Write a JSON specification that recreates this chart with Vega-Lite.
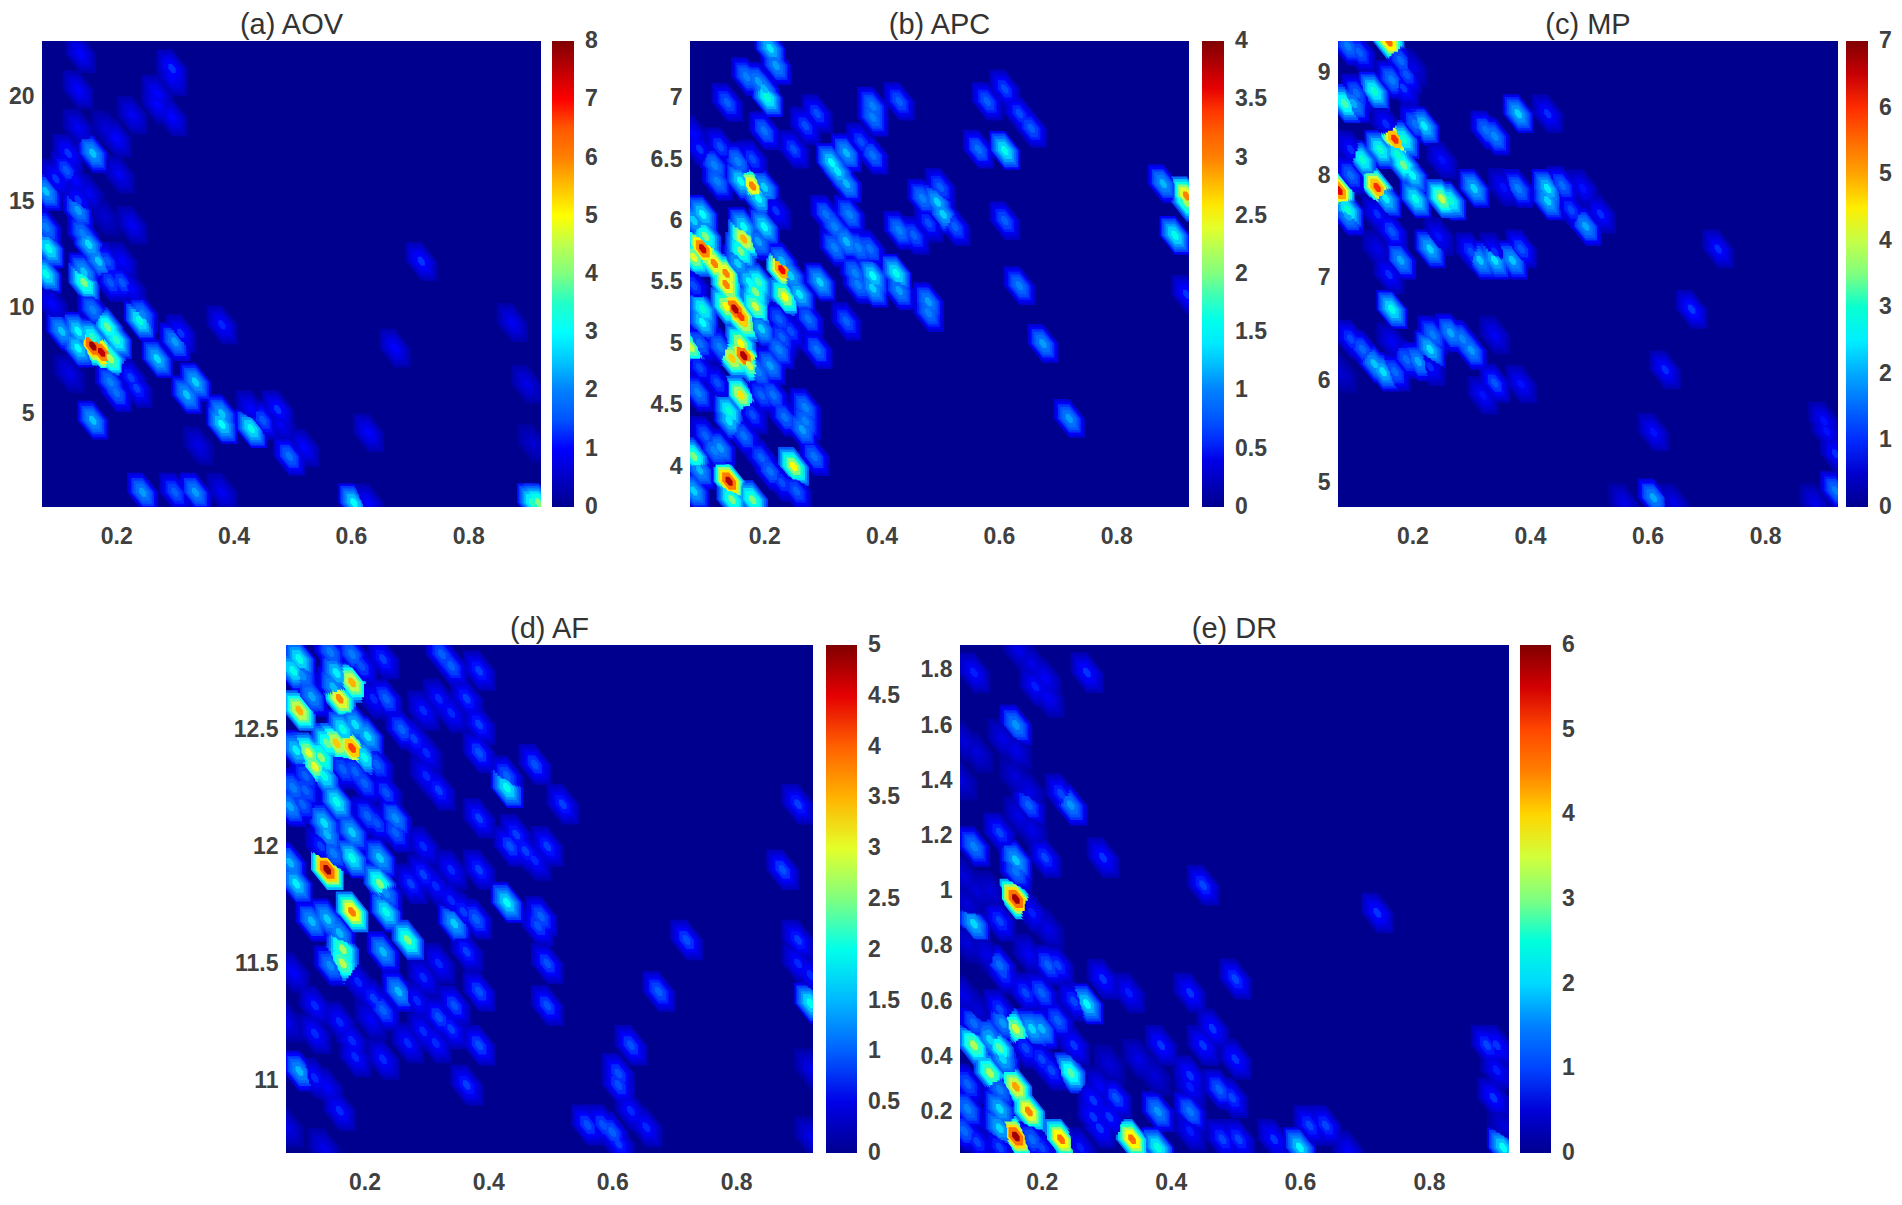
{"$schema":"https://vega.github.io/schema/vega-lite/v6.json","padding":{"left":8,"top":11,"right":5,"bottom":5},"background":"white","bounds":"flush","spacing":604,
"config":{"view":{"fill":"#00008f","stroke":null},"title":{"font":"Liberation Sans","fontSize":29,"fontWeight":"normal","color":"#333333","offset":1},"axis":{"domain":false,"ticks":false,"grid":false,"title":null,"labelFont":"Liberation Sans","labelFontWeight":"bold","labelFontSize":23,"labelColor":"#404040"},"axisX":{"labelPadding":18},"axisY":{"labelPadding":8},"legend":{"orient":"none","title":null,"gradientThickness":22,"labelFont":"Liberation Sans","labelFontWeight":"bold","labelFontSize":23,"labelColor":"#404040","labelOverlap":false,"gradientStrokeWidth":0}},
"datasets":{
"a":[{"x":0.139,"y":22,"v":1},{"x":0.295,"y":21.3,"v":1.2},{"x":0.295,"y":20.9,"v":1},{"x":0.135,"y":20.3,"v":1},{"x":0.27,"y":20.1,"v":1},{"x":0.27,"y":19.6,"v":1},{"x":0.295,"y":19,"v":1},{"x":0.227,"y":19.1,"v":0.9},{"x":0.135,"y":18.5,"v":0.9},{"x":0.2,"y":18,"v":1},{"x":0.185,"y":18.4,"v":0.7},{"x":0.16,"y":17.3,"v":2.5},{"x":0.205,"y":16.3,"v":0.9},{"x":0.118,"y":17.3,"v":1.2},{"x":0.115,"y":16.5,"v":1.5},{"x":0.097,"y":16.1,"v":1.2},{"x":0.08,"y":15.5,"v":2.5},{"x":0.13,"y":16,"v":1},{"x":0.135,"y":14.6,"v":2.2},{"x":0.135,"y":15.1,"v":1.2},{"x":0.153,"y":15.4,"v":0.9},{"x":0.18,"y":14.3,"v":0.6},{"x":0.227,"y":13.9,"v":0.9},{"x":0.08,"y":13.8,"v":2},{"x":0.143,"y":13.5,"v":2},{"x":0.153,"y":13,"v":2.7},{"x":0.17,"y":12.2,"v":2.5},{"x":0.085,"y":12.8,"v":3.2},{"x":0.08,"y":11.6,"v":3.2},{"x":0.145,"y":11.2,"v":4},{"x":0.145,"y":11.7,"v":2.5},{"x":0.185,"y":12.2,"v":1.5},{"x":0.21,"y":12.2,"v":1},{"x":0.19,"y":11.2,"v":1.5},{"x":0.21,"y":11.2,"v":1.5},{"x":0.225,"y":10.9,"v":1},{"x":0.09,"y":10.2,"v":1},{"x":0.16,"y":9.9,"v":2},{"x":0.24,"y":9.4,"v":3.3},{"x":0.245,"y":9.7,"v":2},{"x":0.38,"y":9.2,"v":1.1},{"x":0.107,"y":8.9,"v":2.5},{"x":0.135,"y":8.9,"v":3},{"x":0.16,"y":8.6,"v":3.5},{"x":0.185,"y":9.1,"v":3.8},{"x":0.2,"y":8.5,"v":3.5},{"x":0.16,"y":8.2,"v":7.8},{"x":0.175,"y":7.9,"v":7.5},{"x":0.135,"y":8.1,"v":3},{"x":0.19,"y":7.6,"v":4.4},{"x":0.3,"y":8.4,"v":2.2},{"x":0.31,"y":8.8,"v":1.2},{"x":0.27,"y":7.6,"v":2.7},{"x":0.675,"y":8.1,"v":1},{"x":0.72,"y":12.2,"v":1.2},{"x":0.875,"y":9.3,"v":0.9},{"x":0.9,"y":6.4,"v":0.8},{"x":0.335,"y":6.5,"v":2.6},{"x":0.32,"y":5.9,"v":2.5},{"x":0.19,"y":6.5,"v":2},{"x":0.2,"y":6,"v":1.8},{"x":0.225,"y":6.7,"v":1.3},{"x":0.235,"y":6.2,"v":1.3},{"x":0.12,"y":6.9,"v":0.8},{"x":0.16,"y":4.7,"v":2.5},{"x":0.38,"y":4.5,"v":3},{"x":0.38,"y":5,"v":2.5},{"x":0.43,"y":4.3,"v":3.2},{"x":0.45,"y":4.7,"v":1.5},{"x":0.43,"y":5.2,"v":1},{"x":0.475,"y":5.2,"v":1.2},{"x":0.48,"y":4.5,"v":0.9},{"x":0.495,"y":3,"v":1.8},{"x":0.52,"y":3.4,"v":1},{"x":0.34,"y":3.5,"v":0.8},{"x":0.63,"y":4.1,"v":1},{"x":0.245,"y":1.3,"v":2.2},{"x":0.3,"y":1.3,"v":1.6},{"x":0.335,"y":1.3,"v":2.2},{"x":0.38,"y":1.3,"v":0.9},{"x":0.605,"y":0.8,"v":3},{"x":0.63,"y":0.8,"v":1},{"x":0.91,"y":0.8,"v":3.5},{"x":0.92,"y":0.8,"v":4},{"x":0.91,"y":3.6,"v":0.6}],
"b":[{"x":0.21,"y":7.4,"v":1.4},{"x":0.22,"y":7.26,"v":1.1},{"x":0.17,"y":7.17,"v":1},{"x":0.19,"y":7.13,"v":1.1},{"x":0.205,"y":7,"v":1.7},{"x":0.2,"y":7.07,"v":1.2},{"x":0.137,"y":6.96,"v":0.8},{"x":0.2,"y":6.73,"v":0.9},{"x":0.25,"y":6.58,"v":0.7},{"x":0.27,"y":6.77,"v":0.7},{"x":0.29,"y":6.87,"v":0.7},{"x":0.385,"y":6.93,"v":1},{"x":0.385,"y":6.84,"v":1},{"x":0.43,"y":6.97,"v":0.8},{"x":0.58,"y":6.97,"v":0.8},{"x":0.61,"y":7.07,"v":0.7},{"x":0.635,"y":6.87,"v":0.7},{"x":0.655,"y":6.75,"v":0.8},{"x":0.565,"y":6.58,"v":0.9},{"x":0.61,"y":6.57,"v":1.6},{"x":0.88,"y":6.3,"v":1.2},{"x":0.92,"y":6.2,"v":3},{"x":0.92,"y":6.15,"v":2.2},{"x":0.9,"y":5.88,"v":1.6},{"x":0.61,"y":6,"v":0.8},{"x":0.635,"y":5.47,"v":1},{"x":0.675,"y":5,"v":1.1},{"x":0.72,"y":4.39,"v":1.1},{"x":0.92,"y":5.4,"v":0.6},{"x":0.315,"y":6.47,"v":1.5},{"x":0.34,"y":6.55,"v":1.2},{"x":0.325,"y":6.4,"v":1.4},{"x":0.34,"y":6.3,"v":1.2},{"x":0.365,"y":6.64,"v":0.7},{"x":0.385,"y":6.53,"v":0.9},{"x":0.305,"y":6.05,"v":0.9},{"x":0.345,"y":6.05,"v":1},{"x":0.32,"y":5.95,"v":1},{"x":0.34,"y":5.83,"v":1.2},{"x":0.32,"y":5.78,"v":1},{"x":0.36,"y":5.78,"v":1},{"x":0.38,"y":5.77,"v":0.9},{"x":0.355,"y":5.57,"v":1},{"x":0.385,"y":5.55,"v":1.5},{"x":0.385,"y":5.45,"v":1.3},{"x":0.36,"y":5.48,"v":1},{"x":0.425,"y":5.57,"v":1.6},{"x":0.43,"y":5.43,"v":1.1},{"x":0.48,"y":5.34,"v":1.1},{"x":0.48,"y":5.25,"v":1},{"x":0.34,"y":5.18,"v":0.8},{"x":0.295,"y":5.5,"v":1.3},{"x":0.29,"y":4.95,"v":0.9},{"x":0.5,"y":6.27,"v":0.8},{"x":0.47,"y":6.18,"v":1},{"x":0.495,"y":6.15,"v":1.3},{"x":0.505,"y":6.05,"v":1.3},{"x":0.525,"y":5.95,"v":0.8},{"x":0.43,"y":5.92,"v":1},{"x":0.455,"y":5.88,"v":0.8},{"x":0.48,"y":5.98,"v":0.7},{"x":0.115,"y":6.45,"v":1},{"x":0.09,"y":6.58,"v":0.6},{"x":0.08,"y":6.7,"v":0.5},{"x":0.125,"y":6.6,"v":0.7},{"x":0.155,"y":6.48,"v":1},{"x":0.18,"y":6.28,"v":3},{"x":0.16,"y":6.32,"v":1.5},{"x":0.2,"y":6.27,"v":1.3},{"x":0.19,"y":6.18,"v":1.5},{"x":0.12,"y":6.32,"v":1},{"x":0.18,"y":6.5,"v":0.7},{"x":0.22,"y":6.08,"v":0.6},{"x":0.095,"y":6.05,"v":1.5},{"x":0.08,"y":6,"v":1.3},{"x":0.165,"y":5.85,"v":2.8},{"x":0.16,"y":5.75,"v":2},{"x":0.165,"y":5.95,"v":1.5},{"x":0.2,"y":5.95,"v":1.5},{"x":0.19,"y":5.83,"v":1.1},{"x":0.095,"y":5.77,"v":3.7},{"x":0.115,"y":5.65,"v":3},{"x":0.08,"y":5.7,"v":2.4},{"x":0.135,"y":5.57,"v":3},{"x":0.135,"y":5.48,"v":3},{"x":0.1,"y":5.87,"v":2},{"x":0.155,"y":5.65,"v":1.3},{"x":0.23,"y":5.6,"v":3.5},{"x":0.23,"y":5.67,"v":1.2},{"x":0.245,"y":5.55,"v":1.3},{"x":0.235,"y":5.38,"v":2.5},{"x":0.26,"y":5.4,"v":1.4},{"x":0.185,"y":5.42,"v":2},{"x":0.175,"y":5.5,"v":1.5},{"x":0.19,"y":5.5,"v":1.8},{"x":0.15,"y":5.28,"v":3.8},{"x":0.16,"y":5.22,"v":3.4},{"x":0.135,"y":5.3,"v":2.5},{"x":0.185,"y":5.3,"v":2.3},{"x":0.165,"y":5.17,"v":2.7},{"x":0.095,"y":5.28,"v":1.7},{"x":0.095,"y":5.17,"v":1.5},{"x":0.08,"y":5.47,"v":0.7},{"x":0.195,"y":5.12,"v":1.3},{"x":0.225,"y":5.2,"v":0.8},{"x":0.245,"y":5.1,"v":0.7},{"x":0.275,"y":5.2,"v":0.9},{"x":0.075,"y":4.97,"v":2.3},{"x":0.09,"y":5,"v":0.9},{"x":0.165,"y":4.9,"v":3.8},{"x":0.145,"y":4.88,"v":2.7},{"x":0.16,"y":5,"v":2.5},{"x":0.175,"y":4.82,"v":2.3},{"x":0.125,"y":4.97,"v":1},{"x":0.21,"y":4.82,"v":1.1},{"x":0.225,"y":4.95,"v":1},{"x":0.23,"y":5.05,"v":0.8},{"x":0.19,"y":4.77,"v":1},{"x":0.09,"y":4.8,"v":0.7},{"x":0.12,"y":4.68,"v":0.7},{"x":0.087,"y":4.6,"v":1},{"x":0.16,"y":4.58,"v":2.6},{"x":0.215,"y":4.58,"v":0.9},{"x":0.195,"y":4.58,"v":0.8},{"x":0.14,"y":4.45,"v":1.7},{"x":0.14,"y":4.37,"v":1.4},{"x":0.18,"y":4.42,"v":0.7},{"x":0.27,"y":4.48,"v":1},{"x":0.235,"y":4.4,"v":0.9},{"x":0.265,"y":4.3,"v":1.1},{"x":0.27,"y":4.37,"v":1},{"x":0.165,"y":4.25,"v":0.9},{"x":0.115,"y":4.13,"v":1},{"x":0.1,"y":4.25,"v":0.8},{"x":0.125,"y":4.15,"v":1.1},{"x":0.285,"y":4.08,"v":0.9},{"x":0.195,"y":4.07,"v":0.8},{"x":0.21,"y":3.96,"v":0.9},{"x":0.25,"y":4,"v":2.5},{"x":0.08,"y":4.08,"v":2},{"x":0.09,"y":3.97,"v":1.2},{"x":0.14,"y":3.88,"v":3.8},{"x":0.23,"y":3.87,"v":0.7},{"x":0.255,"y":3.8,"v":0.8},{"x":0.08,"y":3.8,"v":1.3},{"x":0.145,"y":3.73,"v":2},{"x":0.18,"y":3.73,"v":2}],
"c":[{"x":0.09,"y":9.26,"v":1.7},{"x":0.11,"y":9.2,"v":1.4},{"x":0.16,"y":9.3,"v":5.5},{"x":0.18,"y":9.12,"v":1.5},{"x":0.19,"y":8.98,"v":1.3},{"x":0.2,"y":9.05,"v":0.7},{"x":0.085,"y":8.7,"v":3.2},{"x":0.105,"y":8.8,"v":1.5},{"x":0.135,"y":8.82,"v":3},{"x":0.165,"y":8.93,"v":1.7},{"x":0.1,"y":8.7,"v":2},{"x":0.185,"y":8.85,"v":1.1},{"x":0.38,"y":8.6,"v":2.3},{"x":0.43,"y":8.6,"v":1},{"x":0.22,"y":8.48,"v":2.5},{"x":0.205,"y":8.5,"v":1.6},{"x":0.325,"y":8.44,"v":1.6},{"x":0.34,"y":8.38,"v":1.8},{"x":0.155,"y":8.5,"v":1},{"x":0.17,"y":8.35,"v":6},{"x":0.185,"y":8.35,"v":3},{"x":0.145,"y":8.25,"v":3},{"x":0.115,"y":8.15,"v":3},{"x":0.175,"y":8.2,"v":3},{"x":0.185,"y":8.1,"v":3.4},{"x":0.2,"y":8,"v":2.6},{"x":0.25,"y":8.15,"v":0.9},{"x":0.095,"y":8.25,"v":1},{"x":0.095,"y":8,"v":1.5},{"x":0.14,"y":7.88,"v":6},{"x":0.155,"y":7.77,"v":2.5},{"x":0.075,"y":7.85,"v":6.3},{"x":0.09,"y":7.66,"v":3},{"x":0.09,"y":7.6,"v":2},{"x":0.205,"y":7.77,"v":2.8},{"x":0.25,"y":7.77,"v":4},{"x":0.265,"y":7.75,"v":3},{"x":0.305,"y":7.87,"v":2.3},{"x":0.355,"y":7.88,"v":0.9},{"x":0.38,"y":7.87,"v":1.7},{"x":0.43,"y":7.87,"v":2.5},{"x":0.43,"y":7.75,"v":2.3},{"x":0.455,"y":7.9,"v":1.5},{"x":0.49,"y":7.87,"v":0.9},{"x":0.47,"y":7.66,"v":1.2},{"x":0.495,"y":7.5,"v":2},{"x":0.52,"y":7.62,"v":1},{"x":0.165,"y":7.45,"v":1.3},{"x":0.14,"y":7.62,"v":1},{"x":0.23,"y":7.28,"v":2.3},{"x":0.245,"y":7.4,"v":0.9},{"x":0.14,"y":7.28,"v":0.7},{"x":0.18,"y":7.17,"v":2},{"x":0.16,"y":7.03,"v":1},{"x":0.315,"y":7.17,"v":2.2},{"x":0.34,"y":7.17,"v":2.4},{"x":0.37,"y":7.17,"v":2.2},{"x":0.385,"y":7.28,"v":1.3},{"x":0.3,"y":7.25,"v":1.2},{"x":0.34,"y":7.25,"v":1},{"x":0.72,"y":7.28,"v":1},{"x":0.675,"y":6.69,"v":1.1},{"x":0.165,"y":6.69,"v":2.8},{"x":0.34,"y":6.44,"v":0.8},{"x":0.095,"y":6.4,"v":1.2},{"x":0.115,"y":6.3,"v":1.5},{"x":0.135,"y":6.16,"v":2.2},{"x":0.15,"y":6.08,"v":2.4},{"x":0.17,"y":6.08,"v":1.5},{"x":0.165,"y":6.37,"v":0.8},{"x":0.19,"y":6.2,"v":1.5},{"x":0.21,"y":6.18,"v":2},{"x":0.23,"y":6.3,"v":2.4},{"x":0.235,"y":6.44,"v":1.7},{"x":0.265,"y":6.46,"v":2},{"x":0.285,"y":6.4,"v":1.8},{"x":0.3,"y":6.29,"v":1.9},{"x":0.23,"y":6.13,"v":1},{"x":0.63,"y":6.1,"v":1},{"x":0.34,"y":5.97,"v":1.3},{"x":0.385,"y":5.96,"v":0.9},{"x":0.32,"y":5.85,"v":0.9},{"x":0.08,"y":6.06,"v":0.5},{"x":0.61,"y":5.49,"v":0.9},{"x":0.9,"y":5.6,"v":0.9},{"x":0.905,"y":5.5,"v":0.9},{"x":0.92,"y":5.28,"v":1},{"x":0.92,"y":4.92,"v":1.7},{"x":0.61,"y":4.85,"v":2},{"x":0.56,"y":4.8,"v":0.7},{"x":0.645,"y":4.8,"v":0.7},{"x":0.885,"y":4.8,"v":0.7}],
"d":[{"x":0.095,"y":12.8,"v":2},{"x":0.085,"y":12.75,"v":2},{"x":0.1,"y":12.73,"v":1.3},{"x":0.095,"y":12.58,"v":3.5},{"x":0.115,"y":12.64,"v":1.4},{"x":0.145,"y":12.83,"v":1.2},{"x":0.18,"y":12.82,"v":1.2},{"x":0.195,"y":12.77,"v":0.9},{"x":0.23,"y":12.8,"v":0.8},{"x":0.155,"y":12.74,"v":1.8},{"x":0.18,"y":12.7,"v":3.5},{"x":0.16,"y":12.63,"v":3.7},{"x":0.15,"y":12.68,"v":1.5},{"x":0.325,"y":12.82,"v":1},{"x":0.34,"y":12.77,"v":1},{"x":0.385,"y":12.75,"v":0.8},{"x":0.235,"y":12.63,"v":1},{"x":0.215,"y":12.63,"v":0.7},{"x":0.365,"y":12.63,"v":0.8},{"x":0.32,"y":12.63,"v":0.7},{"x":0.34,"y":12.57,"v":0.7},{"x":0.295,"y":12.58,"v":0.7},{"x":0.385,"y":12.52,"v":0.8},{"x":0.26,"y":12.5,"v":1},{"x":0.28,"y":12.46,"v":0.8},{"x":0.3,"y":12.4,"v":0.7},{"x":0.18,"y":12.42,"v":4.2},{"x":0.155,"y":12.44,"v":3.4},{"x":0.14,"y":12.44,"v":2.4},{"x":0.13,"y":12.38,"v":2.6},{"x":0.11,"y":12.4,"v":3},{"x":0.09,"y":12.41,"v":1.8},{"x":0.165,"y":12.5,"v":2},{"x":0.185,"y":12.52,"v":1.7},{"x":0.205,"y":12.47,"v":1.7},{"x":0.12,"y":12.34,"v":3},{"x":0.135,"y":12.3,"v":2},{"x":0.2,"y":12.38,"v":2},{"x":0.385,"y":12.4,"v":0.9},{"x":0.475,"y":12.35,"v":0.9},{"x":0.22,"y":12.35,"v":1},{"x":0.165,"y":12.33,"v":1},{"x":0.185,"y":12.32,"v":1},{"x":0.2,"y":12.27,"v":1},{"x":0.105,"y":12.3,"v":1},{"x":0.085,"y":12.25,"v":1.2},{"x":0.105,"y":12.24,"v":1},{"x":0.43,"y":12.25,"v":2},{"x":0.43,"y":12.3,"v":1},{"x":0.3,"y":12.3,"v":0.7},{"x":0.32,"y":12.24,"v":0.8},{"x":0.235,"y":12.23,"v":0.9},{"x":0.155,"y":12.19,"v":2},{"x":0.08,"y":12.17,"v":1.4},{"x":0.1,"y":12.18,"v":1},{"x":0.52,"y":12.18,"v":0.8},{"x":0.9,"y":12.18,"v":0.8},{"x":0.135,"y":12.1,"v":1.7},{"x":0.14,"y":12.05,"v":1.5},{"x":0.205,"y":12.13,"v":1},{"x":0.22,"y":12.1,"v":0.9},{"x":0.25,"y":12.12,"v":1.3},{"x":0.25,"y":12.06,"v":1},{"x":0.18,"y":12.06,"v":1.6},{"x":0.385,"y":12.12,"v":0.8},{"x":0.295,"y":12,"v":0.7},{"x":0.445,"y":12.05,"v":0.8},{"x":0.435,"y":12,"v":0.9},{"x":0.46,"y":11.98,"v":0.8},{"x":0.475,"y":11.94,"v":0.7},{"x":0.495,"y":12,"v":0.8},{"x":0.18,"y":11.95,"v":2},{"x":0.15,"y":11.97,"v":1.2},{"x":0.13,"y":12,"v":0.8},{"x":0.225,"y":11.95,"v":1.6},{"x":0.14,"y":11.9,"v":4.9},{"x":0.08,"y":11.93,"v":1.5},{"x":0.09,"y":11.84,"v":1.8},{"x":0.225,"y":11.84,"v":2.5},{"x":0.235,"y":11.8,"v":1.3},{"x":0.875,"y":11.9,"v":0.9},{"x":0.34,"y":11.9,"v":0.7},{"x":0.385,"y":11.9,"v":0.8},{"x":0.295,"y":11.88,"v":0.8},{"x":0.275,"y":11.84,"v":0.8},{"x":0.315,"y":11.83,"v":0.7},{"x":0.34,"y":11.77,"v":0.7},{"x":0.36,"y":11.72,"v":0.8},{"x":0.38,"y":11.69,"v":1},{"x":0.43,"y":11.76,"v":1.9},{"x":0.485,"y":11.7,"v":1},{"x":0.48,"y":11.66,"v":0.9},{"x":0.18,"y":11.72,"v":3.8},{"x":0.235,"y":11.72,"v":2},{"x":0.115,"y":11.68,"v":1.5},{"x":0.14,"y":11.69,"v":1.6},{"x":0.345,"y":11.67,"v":1.6},{"x":0.16,"y":11.63,"v":1.5},{"x":0.165,"y":11.56,"v":2.7},{"x":0.165,"y":11.5,"v":2.8},{"x":0.145,"y":11.49,"v":1.3},{"x":0.27,"y":11.6,"v":2.5},{"x":0.72,"y":11.6,"v":0.9},{"x":0.9,"y":11.6,"v":0.8},{"x":0.23,"y":11.55,"v":1.5},{"x":0.365,"y":11.55,"v":0.8},{"x":0.495,"y":11.5,"v":0.9},{"x":0.32,"y":11.5,"v":0.7},{"x":0.085,"y":11.46,"v":0.6},{"x":0.295,"y":11.44,"v":0.7},{"x":0.19,"y":11.42,"v":0.7},{"x":0.9,"y":11.5,"v":0.7},{"x":0.92,"y":11.45,"v":0.7},{"x":0.255,"y":11.38,"v":1.5},{"x":0.385,"y":11.38,"v":0.9},{"x":0.675,"y":11.38,"v":1},{"x":0.215,"y":11.35,"v":0.8},{"x":0.285,"y":11.34,"v":0.7},{"x":0.23,"y":11.3,"v":1},{"x":0.345,"y":11.32,"v":0.9},{"x":0.32,"y":11.27,"v":0.9},{"x":0.34,"y":11.22,"v":0.8},{"x":0.21,"y":11.26,"v":0.6},{"x":0.495,"y":11.32,"v":0.9},{"x":0.12,"y":11.32,"v":0.7},{"x":0.92,"y":11.33,"v":2},{"x":0.16,"y":11.25,"v":0.7},{"x":0.075,"y":11.25,"v":0.5},{"x":0.12,"y":11.2,"v":0.7},{"x":0.295,"y":11.21,"v":0.7},{"x":0.315,"y":11.16,"v":0.7},{"x":0.27,"y":11.16,"v":0.7},{"x":0.385,"y":11.15,"v":0.9},{"x":0.63,"y":11.15,"v":0.9},{"x":0.18,"y":11.17,"v":0.7},{"x":0.185,"y":11.1,"v":0.7},{"x":0.23,"y":11.09,"v":0.7},{"x":0.095,"y":11.04,"v":1.5},{"x":0.12,"y":11.01,"v":0.7},{"x":0.14,"y":10.97,"v":0.6},{"x":0.61,"y":11.03,"v":0.9},{"x":0.61,"y":10.98,"v":0.9},{"x":0.92,"y":11.05,"v":0.5},{"x":0.365,"y":10.98,"v":0.8},{"x":0.16,"y":10.87,"v":0.7},{"x":0.56,"y":10.81,"v":0.9},{"x":0.585,"y":10.81,"v":0.9},{"x":0.6,"y":10.78,"v":1},{"x":0.61,"y":10.73,"v":0.8},{"x":0.63,"y":10.87,"v":0.7},{"x":0.655,"y":10.8,"v":0.7},{"x":0.075,"y":10.8,"v":0.5},{"x":0.135,"y":10.71,"v":0.5},{"x":0.92,"y":10.76,"v":0.5}],
"e":[{"x":0.095,"y":1.79,"v":0.8},{"x":0.27,"y":1.79,"v":0.9},{"x":0.165,"y":1.87,"v":0.6},{"x":0.185,"y":1.82,"v":0.6},{"x":0.205,"y":1.77,"v":0.7},{"x":0.19,"y":1.74,"v":0.8},{"x":0.21,"y":1.7,"v":0.7},{"x":0.16,"y":1.6,"v":1.6},{"x":0.14,"y":1.55,"v":0.6},{"x":0.16,"y":1.51,"v":0.6},{"x":0.08,"y":1.54,"v":0.5},{"x":0.1,"y":1.5,"v":0.5},{"x":0.075,"y":1.4,"v":0.5},{"x":0.16,"y":1.41,"v":0.5},{"x":0.18,"y":1.31,"v":1.2},{"x":0.18,"y":1.36,"v":0.6},{"x":0.23,"y":1.35,"v":1},{"x":0.245,"y":1.31,"v":1.6},{"x":0.165,"y":1.27,"v":0.6},{"x":0.185,"y":1.22,"v":0.6},{"x":0.135,"y":1.21,"v":1},{"x":0.095,"y":1.16,"v":1.5},{"x":0.205,"y":1.12,"v":1},{"x":0.295,"y":1.12,"v":0.9},{"x":0.16,"y":1.11,"v":1.9},{"x":0.16,"y":1.07,"v":1.4},{"x":0.08,"y":1.05,"v":0.5},{"x":0.1,"y":1,"v":0.5},{"x":0.12,"y":1,"v":0.5},{"x":0.45,"y":1.02,"v":1},{"x":0.16,"y":0.97,"v":5.8},{"x":0.72,"y":0.92,"v":0.9},{"x":0.185,"y":0.92,"v":0.8},{"x":0.21,"y":0.86,"v":0.6},{"x":0.095,"y":0.88,"v":2},{"x":0.135,"y":0.89,"v":1},{"x":0.085,"y":0.95,"v":0.5},{"x":0.085,"y":0.81,"v":0.5},{"x":0.115,"y":0.77,"v":0.6},{"x":0.135,"y":0.73,"v":1.3},{"x":0.14,"y":0.7,"v":1},{"x":0.18,"y":0.77,"v":0.7},{"x":0.21,"y":0.73,"v":1.2},{"x":0.225,"y":0.73,"v":1},{"x":0.295,"y":0.68,"v":0.9},{"x":0.5,"y":0.68,"v":1},{"x":0.335,"y":0.63,"v":0.8},{"x":0.43,"y":0.63,"v":0.9},{"x":0.175,"y":0.63,"v":1},{"x":0.2,"y":0.63,"v":1.2},{"x":0.08,"y":0.62,"v":0.6},{"x":0.27,"y":0.59,"v":2.2},{"x":0.25,"y":0.6,"v":1},{"x":0.1,"y":0.57,"v":0.5},{"x":0.135,"y":0.57,"v":1},{"x":0.225,"y":0.53,"v":1.2},{"x":0.465,"y":0.5,"v":0.9},{"x":0.14,"y":0.52,"v":1.6},{"x":0.16,"y":0.5,"v":3.5},{"x":0.185,"y":0.5,"v":2},{"x":0.2,"y":0.5,"v":1.8},{"x":0.095,"y":0.52,"v":1.3},{"x":0.12,"y":0.48,"v":1.6},{"x":0.095,"y":0.44,"v":3.3},{"x":0.135,"y":0.43,"v":2.8},{"x":0.12,"y":0.46,"v":2},{"x":0.175,"y":0.43,"v":1},{"x":0.25,"y":0.44,"v":0.9},{"x":0.385,"y":0.44,"v":0.9},{"x":0.45,"y":0.44,"v":0.9},{"x":0.89,"y":0.44,"v":1},{"x":0.905,"y":0.44,"v":0.9},{"x":0.14,"y":0.39,"v":2},{"x":0.305,"y":0.37,"v":0.5},{"x":0.2,"y":0.39,"v":1},{"x":0.5,"y":0.39,"v":0.9},{"x":0.35,"y":0.39,"v":0.6},{"x":0.375,"y":0.33,"v":0.5},{"x":0.12,"y":0.34,"v":3.3},{"x":0.245,"y":0.34,"v":2.8},{"x":0.215,"y":0.35,"v":1},{"x":0.905,"y":0.35,"v":0.8},{"x":0.43,"y":0.33,"v":0.9},{"x":0.43,"y":0.29,"v":0.8},{"x":0.16,"y":0.29,"v":4.3},{"x":0.085,"y":0.3,"v":1.2},{"x":0.135,"y":0.28,"v":1.5},{"x":0.475,"y":0.28,"v":1.2},{"x":0.9,"y":0.25,"v":0.9},{"x":0.315,"y":0.25,"v":1.1},{"x":0.29,"y":0.29,"v":0.7},{"x":0.28,"y":0.24,"v":0.9},{"x":0.18,"y":0.2,"v":4.5},{"x":0.135,"y":0.21,"v":2},{"x":0.085,"y":0.21,"v":1.5},{"x":0.38,"y":0.2,"v":1.6},{"x":0.43,"y":0.2,"v":1.4},{"x":0.495,"y":0.25,"v":1},{"x":0.28,"y":0.18,"v":0.9},{"x":0.305,"y":0.18,"v":0.9},{"x":0.16,"y":0.11,"v":5.8},{"x":0.23,"y":0.1,"v":4.7},{"x":0.34,"y":0.1,"v":4.7},{"x":0.135,"y":0.14,"v":2},{"x":0.08,"y":0.13,"v":1.3},{"x":0.1,"y":0.09,"v":1},{"x":0.43,"y":0.13,"v":0.8},{"x":0.48,"y":0.1,"v":1},{"x":0.505,"y":0.1,"v":1},{"x":0.185,"y":0.1,"v":1.3},{"x":0.29,"y":0.14,"v":0.9},{"x":0.26,"y":0.07,"v":0.8},{"x":0.56,"y":0.1,"v":0.9},{"x":0.615,"y":0.15,"v":1},{"x":0.64,"y":0.15,"v":1},{"x":0.915,"y":0.15,"v":0.5},{"x":0.38,"y":0.07,"v":2.5},{"x":0.6,"y":0.07,"v":2.2},{"x":0.675,"y":0.06,"v":0.7},{"x":0.915,"y":0.07,"v":2.3},{"x":0.135,"y":0.07,"v":1},{"x":0.2,"y":0.07,"v":1}]},
"vconcat":[
{"hconcat":[
{"width":499,"height":466,"title":"(a) AOV","data":{"name":"a"},"resolve":{"scale":{"color":"independent"}},
"encoding":{"x":{"field":"x","type":"quantitative","scale":{"domain":[0.0734,0.924]},"axis":{"values":[0.2,0.4,0.6,0.8],"format":".1f"}},"y":{"field":"y","type":"quantitative","scale":{"domain":[0.6,22.6]},"axis":{"values":[5,10,15,20],"format":"~g"}},"order":{"field":"v","type":"quantitative"}},
"layer":[
{"mark":{"type":"point","filled":true,"opacity":1,"clip":true,"strokeWidth":0,"size":1500,"shape":"M-0.8 -1L0 -1L0.8 0L0.8 1L0 1L-0.8 0Z"},"encoding":{"color":{"field":"v","type":"quantitative","legend":null,"scale":{"domain":[0,3.33,6.67,10],"range":["#00008f","#0000ff","#0080ff","#00ffff"]}}}},
{"mark":{"type":"point","filled":true,"opacity":1,"clip":true,"strokeWidth":0,"size":1130,"shape":"M-0.8 -1L0 -1L0.8 0L0.8 1L0 1L-0.8 0Z"},"encoding":{"color":{"field":"v","type":"quantitative","legend":null,"scale":{"domain":[0,2.38,4.76,7.14,9.52],"range":["#00008f","#0000ff","#0080ff","#00ffff","#80ff80"]}}}},
{"mark":{"type":"point","filled":true,"opacity":1,"clip":true,"strokeWidth":0,"size":800,"shape":"M-0.8 -1L0 -1L0.8 0L0.8 1L0 1L-0.8 0Z"},"encoding":{"color":{"field":"v","type":"quantitative","legend":null,"scale":{"domain":[0,1.82,3.64,5.45,7.27,9.09],"range":["#00008f","#0000ff","#0080ff","#00ffff","#80ff80","#ffff00"]}}}},
{"mark":{"type":"point","filled":true,"opacity":1,"clip":true,"strokeWidth":0,"size":530,"shape":"M-0.8 -1L0 -1L0.8 0L0.8 1L0 1L-0.8 0Z"},"encoding":{"color":{"field":"v","type":"quantitative","legend":null,"scale":{"domain":[0,1.47,2.94,4.41,5.88,7.35,8.82],"range":["#00008f","#0000ff","#0080ff","#00ffff","#80ff80","#ffff00","#ff8000"]}}}},
{"mark":{"type":"point","filled":true,"opacity":1,"clip":true,"strokeWidth":0,"size":300,"shape":"M-0.8 -1L0 -1L0.8 0L0.8 1L0 1L-0.8 0Z"},"encoding":{"color":{"field":"v","type":"quantitative","legend":null,"scale":{"domain":[0,1.25,2.5,3.75,5,6.25,7.5,8.75],"range":["#00008f","#0000ff","#0080ff","#00ffff","#80ff80","#ffff00","#ff8000","#ff0000"]}}}},
{"mark":{"type":"point","filled":true,"opacity":1,"clip":true,"strokeWidth":0,"size":80,"shape":"M-0.8 -1L0 -1L0.8 0L0.8 1L0 1L-0.8 0Z"},"encoding":{"color":{"field":"v","type":"quantitative","legend":{"legendX":510,"legendY":0,"gradientLength":466,"labelOffset":11,"values":[0,1,2,3,4,5,6,7,8],"format":"~g"},"scale":{"domain":[-0.001,1,2,3,4,5,6,7,8.001],"range":["#00008f","#0000ff","#0080ff","#00ffff","#80ff80","#ffff00","#ff8000","#ff0000","#800000"]}}}}
]},
{"width":499,"height":466,"title":"(b) APC","data":{"name":"b"},"resolve":{"scale":{"color":"independent"}},
"encoding":{"x":{"field":"x","type":"quantitative","scale":{"domain":[0.0734,0.924]},"axis":{"values":[0.2,0.4,0.6,0.8],"format":".1f"}},"y":{"field":"y","type":"quantitative","scale":{"domain":[3.67,7.46]},"axis":{"values":[4,4.5,5,5.5,6,6.5,7],"format":"~g"}},"order":{"field":"v","type":"quantitative"}},
"layer":[
{"mark":{"type":"point","filled":true,"opacity":1,"clip":true,"strokeWidth":0,"size":1500,"shape":"M-0.8 -1L0 -1L0.8 0L0.8 1L0 1L-0.8 0Z"},"encoding":{"color":{"field":"v","type":"quantitative","legend":null,"scale":{"domain":[0,1.67,3.33,5],"range":["#00008f","#0000ff","#0080ff","#00ffff"]}}}},
{"mark":{"type":"point","filled":true,"opacity":1,"clip":true,"strokeWidth":0,"size":1130,"shape":"M-0.8 -1L0 -1L0.8 0L0.8 1L0 1L-0.8 0Z"},"encoding":{"color":{"field":"v","type":"quantitative","legend":null,"scale":{"domain":[0,1.19,2.38,3.57,4.76],"range":["#00008f","#0000ff","#0080ff","#00ffff","#80ff80"]}}}},
{"mark":{"type":"point","filled":true,"opacity":1,"clip":true,"strokeWidth":0,"size":800,"shape":"M-0.8 -1L0 -1L0.8 0L0.8 1L0 1L-0.8 0Z"},"encoding":{"color":{"field":"v","type":"quantitative","legend":null,"scale":{"domain":[0,0.91,1.82,2.73,3.64,4.55],"range":["#00008f","#0000ff","#0080ff","#00ffff","#80ff80","#ffff00"]}}}},
{"mark":{"type":"point","filled":true,"opacity":1,"clip":true,"strokeWidth":0,"size":530,"shape":"M-0.8 -1L0 -1L0.8 0L0.8 1L0 1L-0.8 0Z"},"encoding":{"color":{"field":"v","type":"quantitative","legend":null,"scale":{"domain":[0,0.735,1.47,2.21,2.94,3.68,4.41],"range":["#00008f","#0000ff","#0080ff","#00ffff","#80ff80","#ffff00","#ff8000"]}}}},
{"mark":{"type":"point","filled":true,"opacity":1,"clip":true,"strokeWidth":0,"size":300,"shape":"M-0.8 -1L0 -1L0.8 0L0.8 1L0 1L-0.8 0Z"},"encoding":{"color":{"field":"v","type":"quantitative","legend":null,"scale":{"domain":[0,0.625,1.25,1.875,2.5,3.125,3.75,4.375],"range":["#00008f","#0000ff","#0080ff","#00ffff","#80ff80","#ffff00","#ff8000","#ff0000"]}}}},
{"mark":{"type":"point","filled":true,"opacity":1,"clip":true,"strokeWidth":0,"size":80,"shape":"M-0.8 -1L0 -1L0.8 0L0.8 1L0 1L-0.8 0Z"},"encoding":{"color":{"field":"v","type":"quantitative","legend":{"legendX":512,"legendY":0,"gradientLength":466,"labelOffset":11,"values":[0,0.5,1,1.5,2,2.5,3,3.5,4],"format":"~g"},"scale":{"domain":[-0.001,0.5,1,1.5,2,2.5,3,3.5,4.001],"range":["#00008f","#0000ff","#0080ff","#00ffff","#80ff80","#ffff00","#ff8000","#ff0000","#800000"]}}}}
]},
{"width":500,"height":466,"title":"(c) MP","data":{"name":"c"},"resolve":{"scale":{"color":"independent"}},
"encoding":{"x":{"field":"x","type":"quantitative","scale":{"domain":[0.0734,0.924]},"axis":{"values":[0.2,0.4,0.6,0.8],"format":".1f"}},"y":{"field":"y","type":"quantitative","scale":{"domain":[4.76,9.31]},"axis":{"values":[5,6,7,8,9],"format":"d"}},"order":{"field":"v","type":"quantitative"}},
"layer":[
{"mark":{"type":"point","filled":true,"opacity":1,"clip":true,"strokeWidth":0,"size":1500,"shape":"M-0.8 -1L0 -1L0.8 0L0.8 1L0 1L-0.8 0Z"},"encoding":{"color":{"field":"v","type":"quantitative","legend":null,"scale":{"domain":[0,2.92,5.83,8.75],"range":["#00008f","#0000ff","#0080ff","#00ffff"]}}}},
{"mark":{"type":"point","filled":true,"opacity":1,"clip":true,"strokeWidth":0,"size":1130,"shape":"M-0.8 -1L0 -1L0.8 0L0.8 1L0 1L-0.8 0Z"},"encoding":{"color":{"field":"v","type":"quantitative","legend":null,"scale":{"domain":[0,2.08,4.17,6.25,8.33],"range":["#00008f","#0000ff","#0080ff","#00ffff","#80ff80"]}}}},
{"mark":{"type":"point","filled":true,"opacity":1,"clip":true,"strokeWidth":0,"size":800,"shape":"M-0.8 -1L0 -1L0.8 0L0.8 1L0 1L-0.8 0Z"},"encoding":{"color":{"field":"v","type":"quantitative","legend":null,"scale":{"domain":[0,1.59,3.18,4.77,6.36,7.95],"range":["#00008f","#0000ff","#0080ff","#00ffff","#80ff80","#ffff00"]}}}},
{"mark":{"type":"point","filled":true,"opacity":1,"clip":true,"strokeWidth":0,"size":530,"shape":"M-0.8 -1L0 -1L0.8 0L0.8 1L0 1L-0.8 0Z"},"encoding":{"color":{"field":"v","type":"quantitative","legend":null,"scale":{"domain":[0,1.29,2.57,3.86,5.15,6.43,7.72],"range":["#00008f","#0000ff","#0080ff","#00ffff","#80ff80","#ffff00","#ff8000"]}}}},
{"mark":{"type":"point","filled":true,"opacity":1,"clip":true,"strokeWidth":0,"size":300,"shape":"M-0.8 -1L0 -1L0.8 0L0.8 1L0 1L-0.8 0Z"},"encoding":{"color":{"field":"v","type":"quantitative","legend":null,"scale":{"domain":[0,1.09,2.19,3.28,4.38,5.47,6.56,7.66],"range":["#00008f","#0000ff","#0080ff","#00ffff","#80ff80","#ffff00","#ff8000","#ff0000"]}}}},
{"mark":{"type":"point","filled":true,"opacity":1,"clip":true,"strokeWidth":0,"size":80,"shape":"M-0.8 -1L0 -1L0.8 0L0.8 1L0 1L-0.8 0Z"},"encoding":{"color":{"field":"v","type":"quantitative","legend":{"legendX":508,"legendY":0,"gradientLength":466,"labelOffset":11,"values":[0,1,2,3,4,5,6,7],"format":"~g"},"scale":{"domain":[-0.001,0.875,1.75,2.625,3.5,4.375,5.25,6.125,7.001],"range":["#00008f","#0000ff","#0080ff","#00ffff","#80ff80","#ffff00","#ff8000","#ff0000","#800000"]}}}}
]}
],"spacing":149,"bounds":"flush"},
{"hconcat":[
{"width":97,"height":508,"data":{"values":[{"x":0}]},"view":{"fill":null,"stroke":null},"mark":{"type":"point","opacity":0},"encoding":{"x":{"field":"x","type":"quantitative","axis":null}}},
{"width":527,"height":508,"title":"(d) AF","data":{"name":"d"},"resolve":{"scale":{"color":"independent"}},
"encoding":{"x":{"field":"x","type":"quantitative","scale":{"domain":[0.0734,0.924]},"axis":{"values":[0.2,0.4,0.6,0.8],"format":".1f"}},"y":{"field":"y","type":"quantitative","scale":{"domain":[10.69,12.86]},"axis":{"values":[11,11.5,12,12.5],"format":"~g"}},"order":{"field":"v","type":"quantitative"}},
"layer":[
{"mark":{"type":"point","filled":true,"opacity":1,"clip":true,"strokeWidth":0,"size":1650,"shape":"M-0.8 -1L0 -1L0.8 0L0.8 1L0 1L-0.8 0Z"},"encoding":{"color":{"field":"v","type":"quantitative","legend":null,"scale":{"domain":[0,2.08,4.17,6.25],"range":["#00008f","#0000ff","#0080ff","#00ffff"]}}}},
{"mark":{"type":"point","filled":true,"opacity":1,"clip":true,"strokeWidth":0,"size":1240,"shape":"M-0.8 -1L0 -1L0.8 0L0.8 1L0 1L-0.8 0Z"},"encoding":{"color":{"field":"v","type":"quantitative","legend":null,"scale":{"domain":[0,1.49,2.98,4.46,5.95],"range":["#00008f","#0000ff","#0080ff","#00ffff","#80ff80"]}}}},
{"mark":{"type":"point","filled":true,"opacity":1,"clip":true,"strokeWidth":0,"size":880,"shape":"M-0.8 -1L0 -1L0.8 0L0.8 1L0 1L-0.8 0Z"},"encoding":{"color":{"field":"v","type":"quantitative","legend":null,"scale":{"domain":[0,1.14,2.27,3.41,4.55,5.68],"range":["#00008f","#0000ff","#0080ff","#00ffff","#80ff80","#ffff00"]}}}},
{"mark":{"type":"point","filled":true,"opacity":1,"clip":true,"strokeWidth":0,"size":580,"shape":"M-0.8 -1L0 -1L0.8 0L0.8 1L0 1L-0.8 0Z"},"encoding":{"color":{"field":"v","type":"quantitative","legend":null,"scale":{"domain":[0,0.92,1.84,2.76,3.68,4.6,5.51],"range":["#00008f","#0000ff","#0080ff","#00ffff","#80ff80","#ffff00","#ff8000"]}}}},
{"mark":{"type":"point","filled":true,"opacity":1,"clip":true,"strokeWidth":0,"size":330,"shape":"M-0.8 -1L0 -1L0.8 0L0.8 1L0 1L-0.8 0Z"},"encoding":{"color":{"field":"v","type":"quantitative","legend":null,"scale":{"domain":[0,0.78,1.56,2.34,3.13,3.91,4.69,5.47],"range":["#00008f","#0000ff","#0080ff","#00ffff","#80ff80","#ffff00","#ff8000","#ff0000"]}}}},
{"mark":{"type":"point","filled":true,"opacity":1,"clip":true,"strokeWidth":0,"size":90,"shape":"M-0.8 -1L0 -1L0.8 0L0.8 1L0 1L-0.8 0Z"},"encoding":{"color":{"field":"v","type":"quantitative","legend":{"legendX":540,"legendY":0,"gradientLength":508,"gradientThickness":31,"labelOffset":11,"values":[0,0.5,1,1.5,2,2.5,3,3.5,4,4.5,5],"format":"~g"},"scale":{"domain":[-0.001,0.625,1.25,1.875,2.5,3.125,3.75,4.375,5.001],"range":["#00008f","#0000ff","#0080ff","#00ffff","#80ff80","#ffff00","#ff8000","#ff0000","#800000"]}}}}
]},
{"width":549,"height":508,"title":"(e) DR","data":{"name":"e"},"resolve":{"scale":{"color":"independent"}},
"encoding":{"x":{"field":"x","type":"quantitative","scale":{"domain":[0.0734,0.924]},"axis":{"values":[0.2,0.4,0.6,0.8],"format":".1f"}},"y":{"field":"y","type":"quantitative","scale":{"domain":[0.05,1.89]},"axis":{"values":[0.2,0.4,0.6,0.8,1,1.2,1.4,1.6,1.8],"format":"~g"}},"order":{"field":"v","type":"quantitative"}},
"layer":[
{"mark":{"type":"point","filled":true,"opacity":1,"clip":true,"strokeWidth":0,"size":1650,"shape":"M-0.8 -1L0 -1L0.8 0L0.8 1L0 1L-0.8 0Z"},"encoding":{"color":{"field":"v","type":"quantitative","legend":null,"scale":{"domain":[0,2.5,5,7.5],"range":["#00008f","#0000ff","#0080ff","#00ffff"]}}}},
{"mark":{"type":"point","filled":true,"opacity":1,"clip":true,"strokeWidth":0,"size":1240,"shape":"M-0.8 -1L0 -1L0.8 0L0.8 1L0 1L-0.8 0Z"},"encoding":{"color":{"field":"v","type":"quantitative","legend":null,"scale":{"domain":[0,1.79,3.57,5.36,7.14],"range":["#00008f","#0000ff","#0080ff","#00ffff","#80ff80"]}}}},
{"mark":{"type":"point","filled":true,"opacity":1,"clip":true,"strokeWidth":0,"size":880,"shape":"M-0.8 -1L0 -1L0.8 0L0.8 1L0 1L-0.8 0Z"},"encoding":{"color":{"field":"v","type":"quantitative","legend":null,"scale":{"domain":[0,1.36,2.73,4.09,5.45,6.82],"range":["#00008f","#0000ff","#0080ff","#00ffff","#80ff80","#ffff00"]}}}},
{"mark":{"type":"point","filled":true,"opacity":1,"clip":true,"strokeWidth":0,"size":580,"shape":"M-0.8 -1L0 -1L0.8 0L0.8 1L0 1L-0.8 0Z"},"encoding":{"color":{"field":"v","type":"quantitative","legend":null,"scale":{"domain":[0,1.1,2.21,3.31,4.41,5.51,6.62],"range":["#00008f","#0000ff","#0080ff","#00ffff","#80ff80","#ffff00","#ff8000"]}}}},
{"mark":{"type":"point","filled":true,"opacity":1,"clip":true,"strokeWidth":0,"size":330,"shape":"M-0.8 -1L0 -1L0.8 0L0.8 1L0 1L-0.8 0Z"},"encoding":{"color":{"field":"v","type":"quantitative","legend":null,"scale":{"domain":[0,0.94,1.88,2.81,3.75,4.69,5.63,6.56],"range":["#00008f","#0000ff","#0080ff","#00ffff","#80ff80","#ffff00","#ff8000","#ff0000"]}}}},
{"mark":{"type":"point","filled":true,"opacity":1,"clip":true,"strokeWidth":0,"size":90,"shape":"M-0.8 -1L0 -1L0.8 0L0.8 1L0 1L-0.8 0Z"},"encoding":{"color":{"field":"v","type":"quantitative","legend":{"legendX":560,"legendY":0,"gradientLength":508,"gradientThickness":31,"labelOffset":11,"values":[0,1,2,3,4,5,6],"format":"~g"},"scale":{"domain":[-0.001,0.75,1.5,2.25,3,3.75,4.5,5.25,6.001],"range":["#00008f","#0000ff","#0080ff","#00ffff","#80ff80","#ffff00","#ff8000","#ff0000","#800000"]}}}}
]}
],"spacing":147,"bounds":"flush"}
]}
